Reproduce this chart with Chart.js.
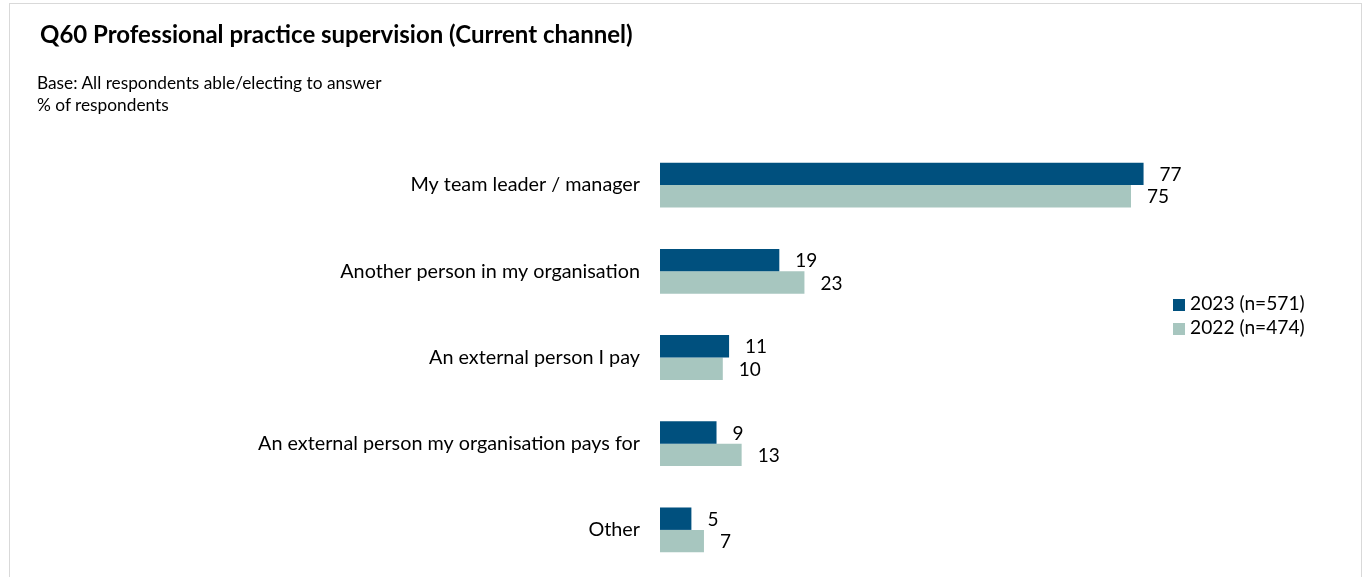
<!DOCTYPE html>
<html>
<head>
<meta charset="utf-8">
<script src="https://cdn.jsdelivr.net/npm/chart.js@4/dist/chart.umd.min.js"></script>
<style>
  html, body { margin: 0; padding: 0; background: #fff; overflow: hidden; }
  #wrap { position: relative; width: 1368px; height: 577px; overflow: hidden; font-family: Lato, "Noto Sans", sans-serif; color: #000; }
  #frame { position: absolute; left: 9px; top: 3px; width: 1353px; height: 620px; border: 1px solid #d9d9d9; box-sizing: border-box; }
  #title { position: absolute; left: 40px; top: 19px; font-size: 24px; font-weight: bold; white-space: nowrap; }
  #sub { position: absolute; left: 37px; top: 72px; font-size: 17.3px; line-height: 22px; white-space: nowrap; }
  #legend { position: absolute; left: 1173px; top: 291px; font-size: 19.2px; line-height: 24px; white-space: nowrap; }
  #legend .sw { display: inline-block; width: 12px; height: 12px; margin-right: 5px; vertical-align: -1px; }
  canvas { position: absolute; left: 0; top: 0; }
</style>
</head>
<body>
<div id="wrap">
  <div id="frame"></div>
  <canvas id="c" width="1368" height="577"></canvas>
  <div id="title">Q60 Professional practice supervision (Current channel)</div>
  <div id="sub">Base: All respondents able/electing to answer<br>% of respondents</div>
  <div id="legend"></div>
</div>
<script>
const categories = [
  "My team leader / manager",
  "Another person in my organisation",
  "An external person I pay",
  "An external person my organisation pays for",
  "Other"
];
const seriesNames = ["2023 (n=571)", "2022 (n=474)"];
const values2023 = [77, 19, 11, 9, 5];
const values2022 = [75, 23, 10, 13, 7];
const seriesColors = ["#00507E", "#A7C6BF"];

// HTML legend
const legendEl = document.getElementById('legend');
seriesNames.forEach((n, i) => {
  const row = document.createElement('div');
  const sw = document.createElement('span');
  sw.className = 'sw';
  sw.style.background = seriesColors[i];
  row.appendChild(sw);
  row.appendChild(document.createTextNode(n));
  legendEl.appendChild(row);
});

const valueLabels = {
  id: 'valueLabels',
  afterDatasetsDraw(chart) {
    const ctx = chart.ctx;
    ctx.save();
    ctx.font = '19px Lato, "Noto Sans", sans-serif';
    ctx.fillStyle = '#000';
    ctx.textAlign = 'left';
    ctx.textBaseline = 'middle';
    chart.data.datasets.forEach((ds, di) => {
      chart.getDatasetMeta(di).data.forEach((bar, i) => {
        ctx.fillText(String(ds.data[i]), bar.x + 16, bar.y + 1);
      });
    });
    ctx.restore();
  }
};

new Chart(document.getElementById('c'), {
  type: 'bar',
  data: {
    labels: categories,
    datasets: [
      { label: seriesNames[0], data: values2023, backgroundColor: seriesColors[0] },
      { label: seriesNames[1], data: values2022, backgroundColor: seriesColors[1] }
    ]
  },
  options: {
    indexAxis: 'y',
    responsive: false,
    animation: false,
    layout: { padding: { left: 0, right: 80, top: 142, bottom: 4 } },
    datasets: { bar: { barPercentage: 1.0, categoryPercentage: 0.52 } },
    plugins: { legend: { display: false }, tooltip: { enabled: false } },
    scales: {
      x: { display: false, min: 0, max: 100 },
      y: {
        grid: { display: false, drawTicks: false },
        border: { display: false },
        ticks: { padding: 20, color: '#000', font: { family: 'Lato, "Noto Sans", sans-serif', size: 19.8 } },
        afterFit(scale) { scale.width = 660; scale.paddingTop = 0; scale.paddingBottom = 0; }
      }
    }
  },
  plugins: [valueLabels]
});
</script>
</body>
</html>
